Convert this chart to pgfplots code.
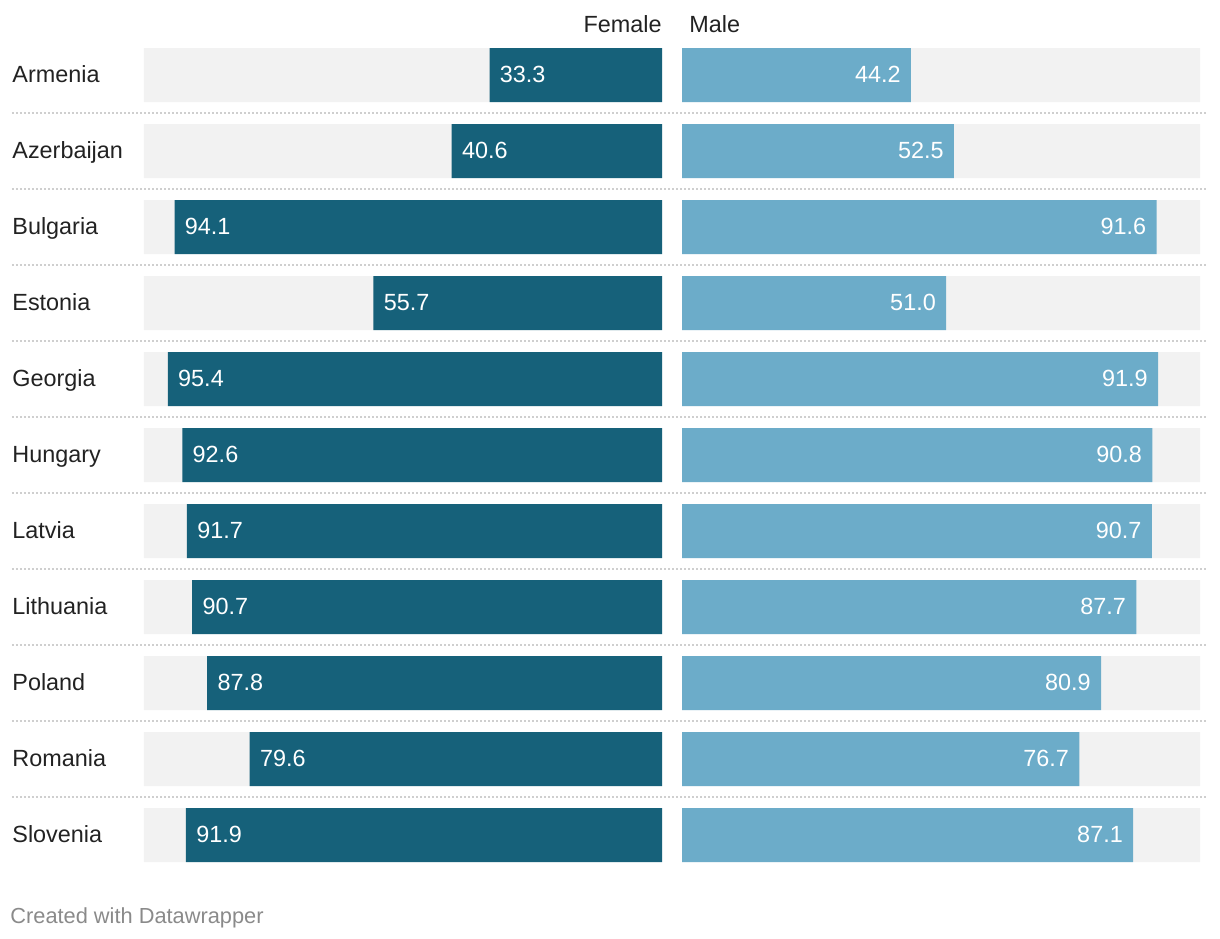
\documentclass[border=0pt]{standalone}
\usepackage{fontspec}
\setmainfont{Liberation Sans}
\usepackage{pgfplots}
\pgfplotsset{compat=1.18}
\usepackage{pgfplotstable}
\definecolor{fem}{HTML}{16617A}
\definecolor{mal}{HTML}{6CACC9}
\definecolor{bg}{HTML}{F2F2F2}
\definecolor{sep}{HTML}{CFCFCF}
\definecolor{foot}{HTML}{8A8A8A}
\definecolor{txt}{HTML}{222222}
\newcommand\lab{\fontsize{11.7pt}{13pt}\selectfont}

\pgfplotstableread{
idx female male full
0 33.3 44.2 100
1 40.6 52.5 100
2 94.1 91.6 100
3 55.7 51.0 100
4 95.4 91.9 100
5 92.6 90.8 100
6 91.7 90.7 100
7 90.7 87.7 100
8 87.8 80.9 100
9 79.6 76.7 100
10 91.9 87.1 100
}\data

\begin{document}
\begin{tikzpicture}
\useasboundingbox (0,0) rectangle (610pt,469pt);
\pgfplotsset{
  rowax/.style={scale only axis, height=407pt, ymin=-0.35526, ymax=10.35526,
    y dir=reverse, clip=false, axis line style={draw=none}, tick style={draw=none},
    major tick length=0pt, xtick=\empty, anchor=north west},
  vallab/.style={nodes near coords={\pgfmathprintnumber[fixed,fixed zerofill,precision=1,assume math mode=true]{\pgfplotspointmeta}}},
}
% frame with country labels and separators
\begin{axis}[rowax, at={(6pt,445pt)}, width=598pt, xmin=0, xmax=1,
  ytick={0,1,2,3,4,5,6,7,8,9,10},
  yticklabels={Armenia,Azerbaijan,Bulgaria,Estonia,Georgia,Hungary,Latvia,Lithuania,Poland,Romania,Slovenia},
  yticklabel style={anchor=base west, inner sep=0pt, yshift=-3.5pt, font=\lab, text=txt},
  extra y ticks={0.5,1.5,2.5,3.5,4.5,5.5,6.5,7.5,8.5,9.5}, extra y tick labels={},
  extra y tick style={grid=major, major grid style={draw=sep, line width=0.9pt, dash pattern=on 1pt off 1pt}}]
\end{axis}
% female
\begin{axis}[rowax, at={(72pt,445pt)}, width=259pt, xmin=0, xmax=100, x dir=reverse,
  ytick=\empty, xbar, bar width=0.7105, bar shift=0pt,
  title=Female, title style={at={(1,1)}, anchor=base east, yshift=2pt, inner sep=0pt, font=\lab, text=txt}]
\addplot[fill=bg, draw=none] table[x=full, y=idx]{\data};
\addplot[fill=fem, draw=none, point meta=x, vallab,
  nodes near coords style={anchor=base west, xshift=5pt, yshift=-3.5pt, inner sep=0pt, text=white, font=\lab}]
  table[x=female, y=idx]{\data};
\end{axis}
% male
\begin{axis}[rowax, at={(341pt,445pt)}, width=259pt, xmin=0, xmax=100,
  ytick=\empty, xbar, bar width=0.7105, bar shift=0pt,
  title=Male, title style={at={(0,1)}, anchor=base west, xshift=3.5pt, yshift=2pt, inner sep=0pt, font=\lab, text=txt}]
\addplot[fill=bg, draw=none] table[x=full, y=idx]{\data};
\addplot[fill=mal, draw=none, point meta=x, vallab,
  nodes near coords style={anchor=base east, xshift=-5pt, yshift=-3.5pt, inner sep=0pt, text=white, font=\lab}]
  table[x=male, y=idx]{\data};
\end{axis}
\node[anchor=base west, inner sep=0pt, text=foot, font=\fontsize{10.9pt}{13pt}\selectfont] at (5pt,7.5pt) {Created with Datawrapper};
\end{tikzpicture}
\end{document}
